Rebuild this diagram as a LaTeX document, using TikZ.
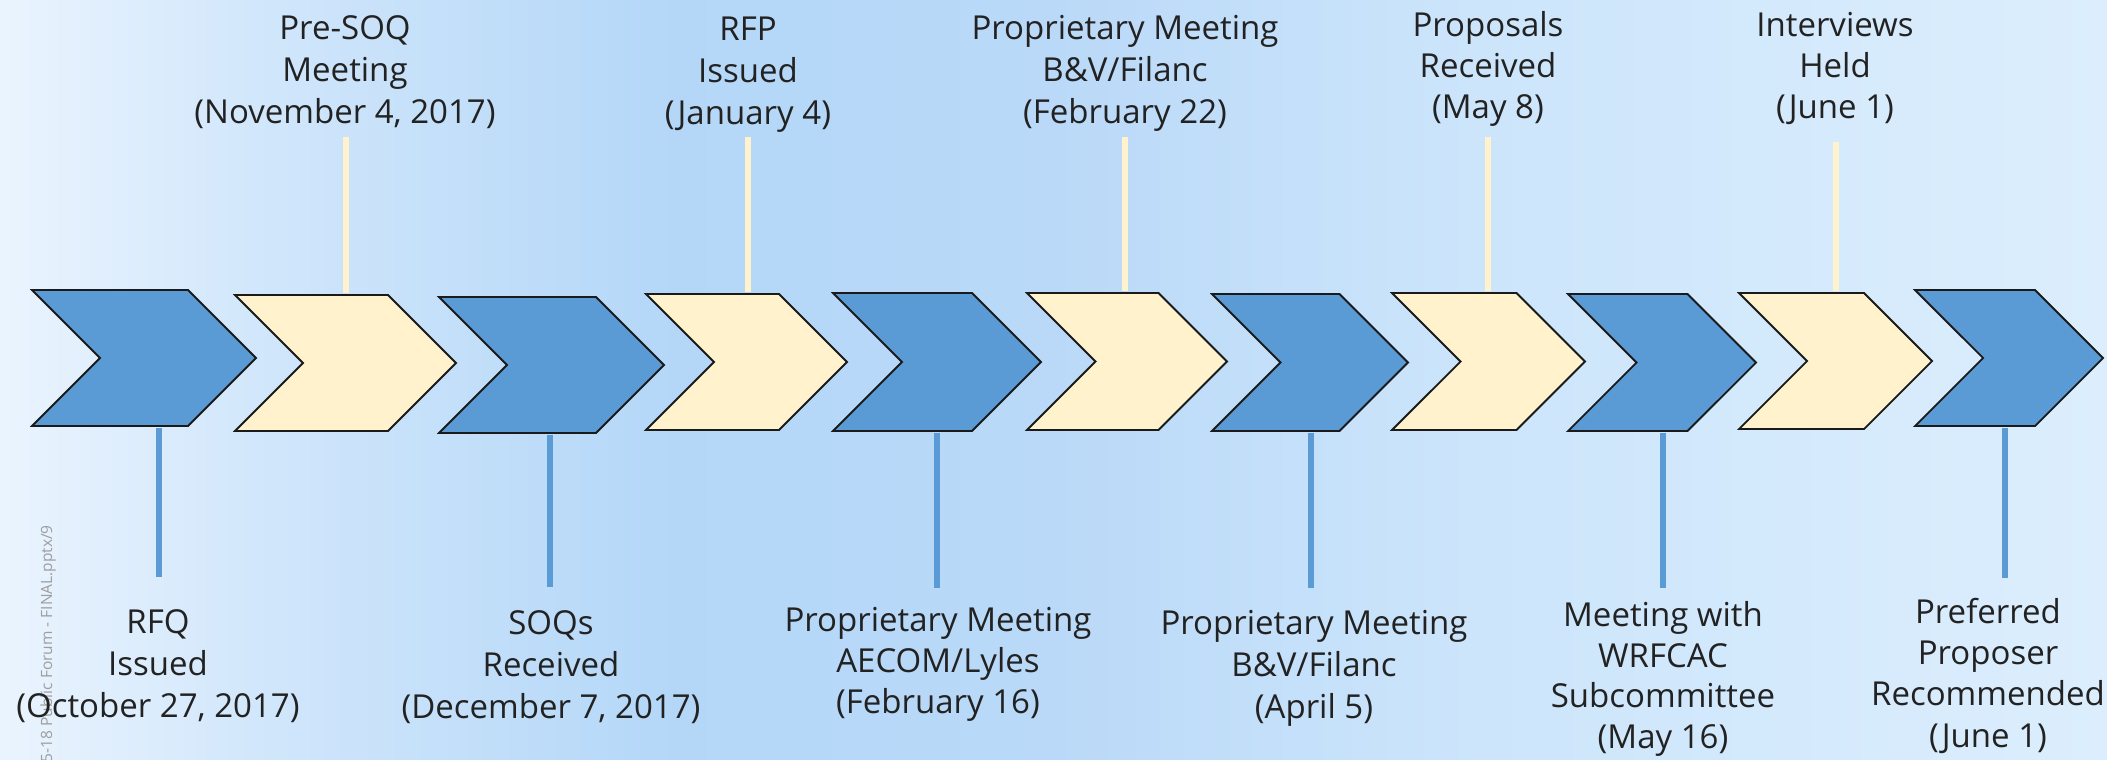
\documentclass[tikz,border=0pt]{standalone}
\usepackage{fontspec}
\setmainfont{Open Sans}
\usetikzlibrary{shapes.symbols}
\definecolor{chevblue}{HTML}{5B9BD5}
\definecolor{chevcream}{HTML}{FFF2CC}
\definecolor{chevline}{HTML}{1A1A1A}
\definecolor{txtcol}{HTML}{222222}
\definecolor{wmgray}{HTML}{9E9E9E}
\definecolor{bgA}{HTML}{EAF4FE}
\definecolor{bgB}{HTML}{D0E6FB}
\definecolor{bgC}{HTML}{B4D7F8}
\definecolor{bgD}{HTML}{BAD9F8}
\definecolor{bgE}{HTML}{CCE5FB}
\definecolor{bgF}{HTML}{DCEEFD}
\pgfdeclarehorizontalshading{bgshade}{100bp}{color(0bp)=(bgA); color(25bp)=(bgA); color(31.5bp)=(bgB); color(41bp)=(bgC); color(50bp)=(bgD); color(60bp)=(bgE); color(75bp)=(bgF); color(100bp)=(bgF)}

\begin{document}
\begin{tikzpicture}
\tikzset{x=1pt}
\tikzset{y=-1pt}
\tikzset{chev/.style={signal, signal from=west, signal to=east, signal pointer angle=90, draw=chevline, line width=1.8pt, inner sep=0pt}}
\tikzset{bluechev/.style={chev, fill=chevblue}}
\tikzset{creamchev/.style={chev, fill=chevcream}}
\tikzset{lbl/.style={align=center, anchor=base, inner sep=0pt, text=txtcol, font=\fontsize{33}{42}\selectfont}}
\tikzset{upstem/.style={draw=chevcream, line width=6.5pt}}
\tikzset{downstem/.style={draw=chevblue, line width=6.5pt}}
\tikzset{wmark/.style={rotate=90, anchor=base east, inner sep=0pt, text=wmgray, font=\fontsize{15.5}{18}\selectfont}}
\shade[shading=bgshade] (0,0) rectangle (2107,760);
\useasboundingbox (0,0) rectangle (2107,760);
\node[wmark] (wm) at (52,525) {25-18 Public Forum - FINAL.pptx/9};
\foreach \n/\l/\r/\t/\b/\s in {1/32/256/290/426/bluechev, 2/235/456/295/431/creamchev, 3/439/664/297/433/bluechev, 4/646/847/294/430/creamchev, 5/833/1041/293/431/bluechev, 6/1027/1227/293/430/creamchev, 7/1212/1408/294/431/bluechev, 8/1392/1585/293/430/creamchev, 9/1568/1756/294/431/bluechev, 10/1739/1932/293/429/creamchev, 11/1915/2103/290/426/bluechev}
  \node[\s, minimum width={\r-\l}, minimum height={\b-\t}] (c\n) at ({(\l+\r)/2},{(\t+\b)/2}) {};
\foreach \n/\x/\y in {2/346/137, 4/748/137, 6/1125/137, 8/1488/137, 10/1836/142} {
  \coordinate (u\n) at (\x,\y);
  \draw[upstem] (u\n) -- ([yshift=1pt]u\n |- c\n.north);
}
\foreach \n/\x/\y in {1/159/577, 3/550/587, 5/937/588, 7/1311/588, 9/1663/588, 11/2005/578} {
  \coordinate (d\n) at (\x,\y);
  \draw[downstem] ([yshift=-1pt]c\n.south -| d\n) -- (d\n);
}
\node[lbl] (t2) at (345,123) {Pre-SOQ\\Meeting\\(November 4, 2017)};
\node[lbl] (t4) at (748,124) {RFP\\Issued\\(January 4)};
\node[lbl] (t6) at (1125,123) {Proprietary Meeting\\B\&V/Filanc\\(February 22)};
\node[lbl, font=\fontsize{33}{41}\selectfont] (t8) at (1488,118) {Proposals\\Received\\(May 8)};
\node[lbl, font=\fontsize{33}{41}\selectfont] (t10) at (1835,118) {Interviews\\Held\\(June 1)};
\node[lbl] (b1) at (158,717) {RFQ\\Issued\\(October 27, 2017)};
\node[lbl] (b3) at (551,718) {SOQs\\Received\\(December 7, 2017)};
\node[lbl, font=\fontsize{33}{41}\selectfont] (b5) at (938,713) {Proprietary Meeting\\AECOM/Lyles\\(February 16)};
\node[lbl] (b7) at (1314,718) {Proprietary Meeting\\B\&V/Filanc\\(April 5)};
\node[lbl, font=\fontsize{33}{40.5}\selectfont] (b9) at (1663,748) {Meeting with\\WRFCAC\\Subcommittee\\(May 16)};
\node[lbl, font=\fontsize{33}{41.3}\selectfont] (b11) at (1988,747) {Preferred\\Proposer\\Recommended\\(June 1)};
\end{tikzpicture}
\end{document}
